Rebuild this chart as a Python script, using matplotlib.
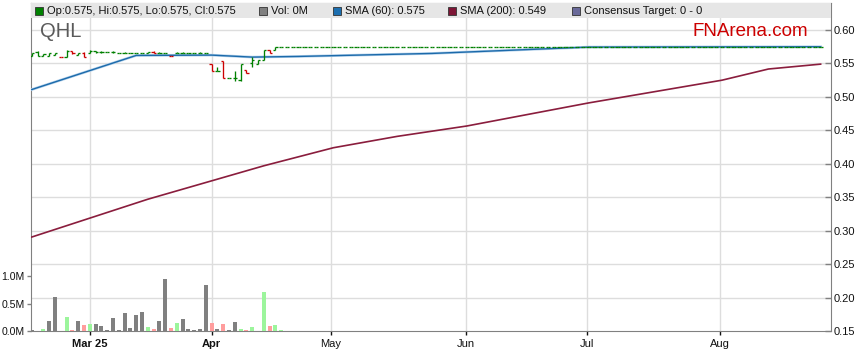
import numpy as np
import matplotlib
matplotlib.use('Agg')
import matplotlib.pyplot as plt
from matplotlib.collections import LineCollection
from matplotlib.patches import Rectangle

plt.rcParams['font.family'] = ['Liberation Sans', 'DejaVu Sans']

######################################################## DATA ########
# x is a trading day index, day 0 = 17 Feb 2025
opens  = [0.561, 0.567, 0.561, 0.561, 0.563, 0.560, 0.560, 0.568, 0.563, 0.566,
          0.566, 0.568, 0.567, 0.567, 0.567, 0.566, 0.566, 0.566, 0.565, 0.565,
          0.565, 0.567, 0.566, 0.566, 0.561, 0.565, 0.566, 0.566, 0.566, 0.566,
          0.566, 0.549, 0.539, 0.554, 0.529, 0.529, 0.525, 0.540, 0.550, 0.549,
          0.555, 0.570, 0.570, 0.575]
highs  = [0.566, 0.568, 0.564, 0.566, 0.566, 0.560, 0.570, 0.568, 0.565, 0.567,
          0.570, 0.569, 0.568, 0.567, 0.568, 0.566, 0.567, 0.566, 0.566, 0.565,
          0.567, 0.568, 0.567, 0.566, 0.561, 0.567, 0.567, 0.566, 0.566, 0.567,
          0.566, 0.549, 0.544, 0.554, 0.529, 0.539, 0.549, 0.540, 0.559, 0.555,
          0.570, 0.570, 0.575, 0.575]
lows   = [0.561, 0.561, 0.561, 0.561, 0.563, 0.560, 0.560, 0.564, 0.562, 0.559,
          0.566, 0.566, 0.566, 0.567, 0.566, 0.566, 0.565, 0.566, 0.565, 0.565,
          0.565, 0.565, 0.565, 0.566, 0.561, 0.565, 0.565, 0.566, 0.566, 0.566,
          0.566, 0.539, 0.539, 0.529, 0.529, 0.524, 0.524, 0.535, 0.544, 0.549,
          0.555, 0.565, 0.570, 0.575]
closes = [0.565, 0.561, 0.564, 0.565, 0.565, 0.560, 0.569, 0.565, 0.565, 0.559,
          0.568, 0.567, 0.567, 0.567, 0.567, 0.566, 0.566, 0.566, 0.565, 0.565,
          0.567, 0.566, 0.566, 0.566, 0.561, 0.566, 0.566, 0.566, 0.566, 0.566,
          0.566, 0.539, 0.539, 0.529, 0.529, 0.529, 0.549, 0.535, 0.555, 0.555,
          0.570, 0.565, 0.575, 0.575]
# move vs previous close: u up, d down, n unchanged
moves  = ['n', 'n', 'u', 'n', 'n', 'd', 'u', 'd', 'n', 'd',
          'u', 'n', 'n', 'n', 'n', 'n', 'n', 'n', 'n', 'n',
          'u', 'd', 'n', 'n', 'd', 'u', 'n', 'n', 'n', 'n',
          'n', 'd', 'n', 'd', 'n', 'n', 'u', 'd', 'u', 'u',
          'u', 'd', 'u', 'u']
volume = [0.01, 0.00, 0.03, 0.18, 0.61, 0.00, 0.25, 0.02, 0.18, 0.11,
          0.12, 0.12, 0.09, 0.02, 0.23, 0.02, 0.32, 0.05, 0.29, 0.34,
          0.07, 0.04, 0.19, 0.95, 0.05, 0.14, 0.21, 0.04, 0.02, 0.03,
          0.84, 0.14, 0.03, 0.12, 0.02, 0.16, 0.03, 0.02, 0.07, 0.00,
          0.71, 0.09, 0.11, 0.01]

# no trades after mid April, price held at last close
flat_price = 0.575
flat_days = 93

sma60_day = [0, 18, 31, 38, 46, 69, 96, 136]
sma60_val = [0.511, 0.562, 0.5625, 0.5595, 0.5605, 0.565, 0.5745, 0.575]

sma200_day = [0, 20, 40, 52, 63, 75, 96, 119, 127, 136]
sma200_val = [0.2905, 0.347, 0.397, 0.424, 0.441, 0.4565, 0.491, 0.525, 0.5417, 0.549]

month_pos = [10, 31, 51.6, 74.9, 95.7, 118.7]
month_lbl = ['Mar 25', 'Apr', 'May', 'Jun', 'Jul', 'Aug']
month_bold = [True, True, False, False, False, False]

price_ticks = [0.15, 0.20, 0.25, 0.30, 0.35, 0.40, 0.45, 0.50, 0.55, 0.60]
vol_ticks = [0.0, 0.5, 1.0]
vol_lbl = ['0.0M', '0.5M', '1.0M']

legend_items = [('#008000', 'Op:0.575, Hi:0.575, Lo:0.575, Cl:0.575', 35),
                ('#808080', 'Vol: 0M', 259),
                ('#1c6fb0', 'SMA (60): 0.575', 333),
                ('#7d1535', 'SMA (200): 0.549', 448),
                ('#6a6a9a', 'Consensus Target: 0 - 0', 572)]

######################################################## DATA ########

opens = opens + [flat_price] * flat_days
highs = highs + [flat_price] * flat_days
lows = lows + [flat_price] * flat_days
closes = closes + [flat_price] * flat_days
moves = moves + ['n'] * flat_days
days = np.arange(len(opens))

W, H = 859, 363
L, R, T, B = 30.5, 830.5, 3, 331
fig = plt.figure(figsize=(W / 100, H / 100), dpi=100)
ax = fig.add_axes([L / W, (H - B) / H, (R - L) / W, (B - T) / H])
ax.set_xlim(-0.22, 137.7)
ax.set_ylim(0.15, 0.6404)

grid_c = '#dddddd'
for p in price_ticks[1:]:
    ax.axhline(p, color=grid_c, lw=1, zorder=0)
for m in month_pos:
    ax.axvline(m, color=grid_c, lw=1, zorder=0)

# volume on its own scale, left side
axv = ax.twinx()
axv.set_ylim(0, 328 / 55)
vcol = {'u': '#9cf59c', 'd': '#ff9d9d', 'n': '#808080'}
axv.bar(days[:len(volume)], volume, width=0.68,
        color=[vcol[m] for m in moves[:len(volume)]], zorder=2)

# ohlc bars
pcol = {'u': '#008000', 'd': '#cc0000', 'n': '#008000'}
w = 0.38
segs, cols = [], []
for d, o, h, l, c, m in zip(days, opens, highs, lows, closes, moves):
    segs += [[(d, l), (d, h)], [(d - w, o), (d, o)], [(d, c), (d + w, c)]]
    cols += [pcol[m]] * 3
ax.add_collection(LineCollection(segs, colors=cols, linewidths=0.95, zorder=4))

ax.plot(sma60_day, sma60_val, color='#b4d2ec', lw=1.9, zorder=3)
ax.plot(sma60_day, sma60_val, color='#1c6aaa', lw=1.0, zorder=3)
ax.plot(sma200_day, sma200_val, color='#8a1d3d', lw=1.2, zorder=3)

# legend band
band = Rectangle((0, 1 - 15 / 328), 1, 15 / 328, transform=ax.transAxes,
                 facecolor='#e6e6e6', edgecolor='none', zorder=5)
ax.add_patch(band)
for c, txt, x in legend_items:
    fig.patches.append(Rectangle((x / W, 1 - 14.5 / H), 8 / W, 8 / H,
                                 transform=fig.transFigure, facecolor=c,
                                 edgecolor='#333333', lw=0.6, zorder=6))
    fig.text((x + 12) / W, 1 - 11 / H, txt, fontsize=8, color='#111111',
             va='center', ha='left')

fig.text(40 / W, 1 - 31.5 / H, 'QHL', fontsize=14.5, color='#5a5a5a',
         va='center', ha='left')
fig.text(808 / W, 1 - 31.5 / H, 'FNArena.com', fontsize=13.5, color='#cc0000',
         va='center', ha='right')

for s in ax.spines.values():
    s.set_color('#808080')
for s in axv.spines.values():
    s.set_visible(False)

ax.yaxis.tick_right()
ax.set_yticks(price_ticks)
ax.set_yticklabels(['%.2f' % p for p in price_ticks])
ax.tick_params(axis='y', direction='in', length=4, width=1, color='#808080',
               labelsize=8, pad=2.5, labelcolor='#111111')

axv.yaxis.tick_left()
axv.set_yticks(vol_ticks)
axv.set_yticklabels(vol_lbl)
axv.tick_params(axis='y', length=3, width=1, color='#808080', labelsize=7.6,
                pad=1, labelcolor='#111111')

ax.set_xticks(month_pos)
ax.set_xticklabels(month_lbl)
ax.tick_params(axis='x', length=3, width=1, color='#111111', labelsize=8,
               pad=3, labelcolor='#111111')
for t, b in zip(ax.get_xticklabels(), month_bold):
    if b:
        t.set_fontweight('bold')

fig.savefig('out.png', dpi=100)
